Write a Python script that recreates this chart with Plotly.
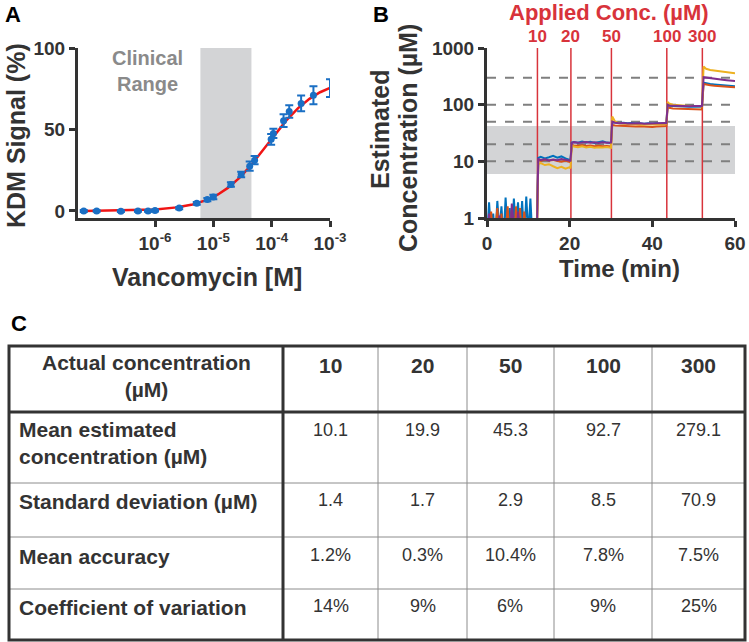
import numpy as np
import plotly.graph_objects as go

W, H = 749, 642
FONT = "Liberation Sans, Arial, sans-serif"
DARK = "#333333"

# ---------------- Panel A data ----------------
conc_M = [6.0e-8, 1.0e-7, 2.6e-7, 5.1e-7, 7.6e-7, 1.0e-6, 2.6e-6, 5.2e-6, 7.9e-6,
          1.0e-5, 2.0e-5, 3.0e-5, 4.2e-5, 5.1e-5, 9.8e-5, 1.07e-4, 1.6e-4, 2.0e-4,
          3.2e-4, 5.2e-4, 1.0e-3]
kdm_signal = [0.0, 0.0, -0.1, 0.0, 0.0, 0.3, 1.8, 4.7, 7.0, 8.6, 16.2, 22.4, 27.5,
              31.2, 44.0, 47.6, 55.4, 61.0, 66.0, 71.0, 75.4]
kdm_err = [0.6, 0.5, 0.5, 0.5, 0.5, 0.6, 0.7, 0.8, 1.0, 1.4, 1.4, 1.7, 2.8, 2.5,
           3.3, 2.8, 3.9, 3.8, 4.8, 5.5, 5.5]
# Hill fit parameters of the red curve
fit_top, fit_ec50, fit_hill = 82.0, 8.5e-5, 1.0
clinical_range_M = [6.0e-6, 4.5e-5]
a_xticks = [1e-6, 1e-5, 1e-4, 1e-3]
a_xticklabels = ["10<sup>-6</sup>", "10<sup>-5</sup>", "10<sup>-4</sup>", "10<sup>-3</sup>"]
a_yticks = [0, 50, 100]

# ---------------- Panel B data ----------------
time_min = [0, 0.5, 1, 1.5, 2, 2.5, 3, 3.5, 4, 4.5, 5, 5.5, 6, 6.5, 7, 7.5, 8, 8.5,
            9, 9.5, 10, 10.5, 11, 11.5, 12,
            12.4, 13, 14, 15, 16, 17, 18, 19, 20, 20.2,
            20.5, 21, 22, 23, 24, 25, 26, 27, 28, 29, 30.0,
            30.3, 31, 32, 33, 34, 35, 36, 37, 38, 39, 40, 41, 42, 43, 43.4,
            43.7, 44, 45, 46, 47, 48, 49, 50, 51, 52.0,
            52.4, 53, 54, 55, 56, 57, 58, 59, 60]
sensor_blue = [0.4, 1.9, 0.5, 1.2, 0.4, 2.0, 0.6, 1.6, 0.4, 2.3, 0.5, 1.5, 0.4, 2.2,
               0.6, 1.9, 0.5, 2.0, 0.4, 2.4, 0.5, 2.2, 0.4, 0.5, 0.5,
               11.5, 12.0, 11.2, 11.8, 12.5, 11.6, 12.2, 11.3, 10.8, 10.5,
               21.5, 22.0, 21.3, 22.4, 21.6, 22.2, 21.1, 21.8, 22.5, 21.4, 21.0,
               48, 49, 47.5, 48, 47, 47.5, 46.5, 47, 46, 46.8, 46, 47, 46.5, 47.5, 48,
               98, 96, 95, 94, 93, 93.5, 92, 93, 92.5, 92,
               245, 238, 232, 228, 225, 222, 218, 215, 212]
sensor_orange = [0.3, 0.5, 1.3, 0.4, 0.6, 1.5, 0.4, 1.2, 0.3, 0.5, 1.6, 0.4, 1.4,
                 0.3, 1.6, 0.4, 1.5, 0.3, 1.3, 0.4, 0.3, 0.4, 0.3, 0.3, 0.3,
                 10.5, 10.2, 10.8, 10.4, 10.6, 10.1, 9.8, 10.3, 9.9, 9.6,
                 19.5, 19.0, 18.8, 19.3, 18.6, 19.0, 18.4, 18.9, 18.5, 18.7, 18.3,
                 44, 43, 42.5, 42, 41.5, 42, 41, 41.5, 40.8, 41.3, 40.5, 41, 41.2, 41.5, 42,
                 90, 88, 86, 85.5, 85, 84.5, 84, 84, 83.5, 82,
                 232, 226, 220, 216, 212, 210, 207, 205, 203]
sensor_yellow = [0.3, 0.4, 0.3, 0.4, 0.3, 0.4, 0.3, 0.4, 0.3, 0.4, 0.3, 0.4, 0.3,
                 0.4, 0.3, 0.4, 0.3, 0.4, 0.3, 0.4, 0.3, 0.4, 0.3, 0.3, 0.3,
                 9.0, 9.3, 8.6, 8.9, 8.2, 7.6, 8.0, 7.4, 7.9, 7.5,
                 19.0, 18.2, 17.8, 18.5, 17.6, 18.0, 17.3, 17.8, 17.5, 17.9, 17.4,
                 62, 50, 47, 46, 45.5, 45, 44.5, 45, 44, 45, 44.5, 45, 44.5, 45, 45.5,
                 112, 105, 100, 98, 97, 96, 95, 95, 94, 94,
                 470, 430, 410, 400, 390, 380, 372, 365, 358]
sensor_purple = [0.3, 1.2, 0.4, 0.3, 0.4, 0.3, 1.1, 0.3, 0.4, 0.3, 0.4, 0.3, 1.8,
                 0.4, 0.3, 1.3, 0.4, 0.3, 0.4, 0.3, 0.4, 0.3, 0.3, 0.3, 0.3,
                 11.0, 10.6, 10.9, 10.4, 10.8, 10.5, 11.0, 10.7, 10.3, 10.0,
                 21.0, 21.8, 21.2, 21.5, 22.0, 21.3, 21.7, 21.0, 21.6, 21.2, 21.5,
                 50, 48, 47, 47.5, 46.5, 47, 46.5, 47, 46, 46.5, 47, 46.5, 47, 47.5, 47,
                 100, 97, 96, 95.5, 95, 94.5, 94, 94.5, 93.5, 95,
                 305, 300, 292, 285, 280, 275, 270, 268, 262]
applied_times = [12.2, 20.3, 30.1, 43.5, 52.1]
applied_labels = ["10", "20", "50", "100", "300"]
reference_levels = [10, 20, 50, 100, 300]
clinical_range_uM = [6, 42]
b_xticks = [0, 20, 40, 60]
b_yticks = [1, 10, 100, 1000]
b_yticklabels = ["1", "10", "100", "1000"]

# ---------------- Panel C table ----------------
table_corner = "Actual concentration<br>(µM)"
table_conc = ["10", "20", "50", "100", "300"]
row_labels = ["Mean estimated<br>concentration (µM)", "Standard deviation (µM)",
              "Mean accuracy", "Coefficient of variation"]
mean_estimated = ["10.1", "19.9", "45.3", "92.7", "279.1"]
std_deviation = ["1.4", "1.7", "2.9", "8.5", "70.9"]
mean_accuracy = ["1.2%", "0.3%", "10.4%", "7.8%", "7.5%"]
coeff_variation = ["14%", "9%", "6%", "9%", "25%"]

# ---------------- helpers (layout geometry in pixels) ----------------
def px(x):
    return x / W

def py(y):
    return 1 - y / H

fig = go.Figure()

# ---- Panel A ----
fig.add_trace(go.Scatter(
    x=[clinical_range_M[0], clinical_range_M[1], clinical_range_M[1], clinical_range_M[0]],
    y=[-4.3, -4.3, 100, 100], fill="toself", fillcolor="#d3d4d6",
    line=dict(width=0), mode="lines", hoverinfo="skip", xaxis="x", yaxis="y"))
xfit = np.logspace(np.log10(conc_M[0]), np.log10(conc_M[-1]), 300)
yfit = fit_top * (xfit / fit_ec50) ** fit_hill / (1 + (xfit / fit_ec50) ** fit_hill)
fig.add_trace(go.Scatter(x=xfit, y=yfit, mode="lines",
                         line=dict(color="#f01414", width=2.5), xaxis="x", yaxis="y"))
fig.add_trace(go.Scatter(
    x=conc_M, y=kdm_signal, mode="markers",
    marker=dict(color="#1a6fc4", size=7),
    error_y=dict(type="data", array=kdm_err, color="#1a6fc4", thickness=2, width=4),
    cliponaxis=False, xaxis="x", yaxis="y"))

# ---- Panel B ----
fig.add_trace(go.Scatter(
    x=[0, 60, 60, 0],
    y=[clinical_range_uM[0], clinical_range_uM[0], clinical_range_uM[1], clinical_range_uM[1]],
    fill="toself", fillcolor="#d3d4d6", line=dict(width=0), mode="lines",
    hoverinfo="skip", xaxis="x2", yaxis="y2"))
for lev in reference_levels:
    fig.add_trace(go.Scatter(x=[0, 60], y=[lev, lev], mode="lines",
                             line=dict(color="#7f7f7f", width=2, dash="dash"),
                             xaxis="x2", yaxis="y2"))
for t in applied_times:
    fig.add_trace(go.Scatter(x=[t, t], y=[1, 1000], mode="lines",
                             line=dict(color="#d8333b", width=1.5),
                             xaxis="x2", yaxis="y2"))
for series, col in [(sensor_blue, "#0072BD"), (sensor_orange, "#D95319"),
                    (sensor_yellow, "#EDB120"), (sensor_purple, "#7E2F8E")]:
    fig.add_trace(go.Scatter(x=time_min, y=series, mode="lines",
                             line=dict(color=col, width=2), xaxis="x2", yaxis="y2"))

axis_common = dict(showline=True, linecolor=DARK, linewidth=3, ticks="outside",
                   ticklen=6, tickwidth=3, tickcolor=DARK, showgrid=False,
                   zeroline=False, automargin=False,
                   tickfont=dict(family=FONT, size=19, color=DARK, weight="bold"))

fig.update_layout(
    width=W, height=H, autosize=False,
    margin=dict(l=0, r=0, t=0, b=0, pad=0, autoexpand=False),
    paper_bgcolor="white", plot_bgcolor="white", showlegend=False,
    xaxis=dict(domain=[px(78), px(330)], type="log", range=[-7.32, -3.0],
               tickvals=a_xticks, ticktext=a_xticklabels, anchor="y", **axis_common),
    yaxis=dict(domain=[py(218), py(48)], range=[-4.3, 100], tickvals=a_yticks,
               anchor="x", **axis_common),
    xaxis2=dict(domain=[px(487), px(735)], range=[0, 60], tickvals=b_xticks,
                anchor="y2", **axis_common),
    yaxis2=dict(domain=[py(218), py(48)], type="log", range=[0, 3],
                tickvals=b_yticks, ticktext=b_yticklabels, anchor="x2", **axis_common),
)

ann = []
def add_text(text, x, y, size, color=DARK, bold=True, xanchor="center",
             yanchor="middle", angle=0, xref="paper", align="center"):
    ann.append(dict(text=("<b>%s</b>" % text) if bold else text,
                    x=px(x) if xref == "paper" else x, y=py(y),
                    xref=xref, yref="paper", showarrow=False, align=align,
                    xanchor=xanchor, yanchor=yanchor, textangle=angle,
                    font=dict(family=FONT, size=size, color=color)))

# panel labels
add_text("A", 3, 14, 22, color="black", xanchor="left")
add_text("B", 371, 14, 22, color="black", xanchor="left")
add_text("C", 9, 323, 22, color="black", xanchor="left")
# axis titles
add_text("KDM Signal (%)", 16, 136, 25, angle=-90)
add_text("Vancomycin [M]", 207, 277, 25)
add_text("Estimated", 380, 130, 25, angle=-90)
add_text("Concentration (µM)", 408, 138, 25, angle=-90)
add_text("Time (min)", 619, 268, 24)
add_text("Clinical<br>Range", 147, 71, 20, color="#8a8a8a")
# applied concentrations
add_text("Applied Conc. (µM)", 609, 12, 22, color="#d8333b")
for t, lab in zip(applied_times, applied_labels):
    add_text(lab, t, 37, 17, color="#d8333b", xref="x2")

# ---- table ----
col_x = [9, 283, 378, 467, 554, 652, 745]
row_y = [346, 412, 483, 537, 589, 640]
shapes = []
thin = dict(color="#8c8c8c", width=1)
thick = dict(color=DARK, width=3)
for xv in col_x[2:-1]:
    shapes.append(dict(type="line", xref="paper", yref="paper", x0=px(xv), x1=px(xv),
                       y0=py(row_y[0]), y1=py(row_y[-1]), line=thin))
for yv in row_y[2:-1]:
    shapes.append(dict(type="line", xref="paper", yref="paper", x0=px(col_x[0]),
                       x1=px(col_x[-1]), y0=py(yv), y1=py(yv), line=thin))
shapes.append(dict(type="line", xref="paper", yref="paper", x0=px(col_x[1]), x1=px(col_x[1]),
                   y0=py(row_y[0]), y1=py(row_y[-1]), line=thick))
shapes.append(dict(type="line", xref="paper", yref="paper", x0=px(col_x[0]), x1=px(col_x[-1]),
                   y0=py(row_y[1]), y1=py(row_y[1]), line=thick))
shapes.append(dict(type="rect", xref="paper", yref="paper", x0=px(col_x[0]), x1=px(col_x[-1]),
                   y0=py(row_y[0]), y1=py(row_y[-1]), line=thick))

col_centers = [(col_x[i] + col_x[i + 1]) / 2 for i in range(1, 6)]
add_text(table_corner, 146, 376, 21)
for xc, lab in zip(col_centers, table_conc):
    add_text(lab, xc, 366, 21)
label_y = [443, 501, 556, 607]
value_y = [430, 500, 555, 606]
rows = [mean_estimated, std_deviation, mean_accuracy, coeff_variation]
for lab, ly, vy, vals in zip(row_labels, label_y, value_y, rows):
    add_text(lab, 17, ly, 21, xanchor="left", align="left")
    for xc, v in zip(col_centers, vals):
        add_text(v, xc, vy, 18, bold=False)

fig.update_layout(annotations=ann, shapes=shapes)
fig.write_html(
    "out.html",
    config={"displayModeBar": False},
    post_script="document.body.style.margin='0';document.body.style.padding='0';"
                "document.documentElement.style.overflow='hidden';")
